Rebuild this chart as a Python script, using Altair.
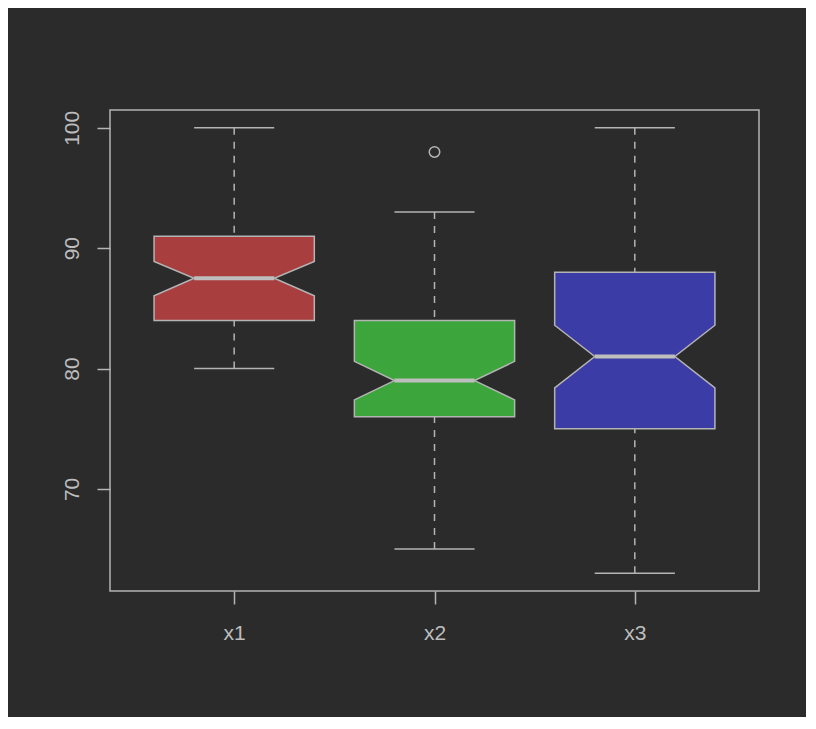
import pandas as pd
import altair as alt

# box statistics
groups = ["x1", "x2", "x3"]
positions = [1, 2, 3]
q1 = [84, 76, 75]
median = [87.5, 79, 81]
q3 = [91, 84, 88]
notch_lo = [86.05, 77.4, 78.4]
notch_hi = [88.9, 80.6, 83.6]
whisk_lo = [80, 65, 63]
whisk_hi = [100, 93, 100]
outlier_group = ["x2"]
outlier_pos = [2]
outlier_value = [98]
fills = ["#a83e3e", "#3ca63c", "#3c3ca6"]

LINE = "#b4b4b4"
TEXT = "#bdbdbd"
BG = "#2b2b2b"
half = 0.4   # half box width
nh = 0.2     # half notch / staple width

# outline of the notched boxes, one row per vertex height
rows = []
for g, p, a, nl, m, nu, b in zip(groups, positions, q1, notch_lo, median, notch_hi, q3):
    rows += [
        {"group": g, "y": a, "left": p - half, "right": p + half},
        {"group": g, "y": nl, "left": p - half, "right": p + half},
        {"group": g, "y": m, "left": p - nh, "right": p + nh},
        {"group": g, "y": nu, "left": p - half, "right": p + half},
        {"group": g, "y": b, "left": p - half, "right": p + half},
    ]
shape = pd.DataFrame(rows)

stats = pd.DataFrame({
    "group": groups, "pos": positions, "q1": q1, "median": median, "q3": q3,
    "wlo": whisk_lo, "whi": whisk_hi,
})
stats["nl"] = stats["pos"] - nh
stats["nr"] = stats["pos"] + nh
outl = pd.DataFrame({"group": outlier_group, "pos": outlier_pos, "value": outlier_value})

xscale = alt.Scale(domain=[0.38, 3.62], nice=False, zero=False)
yscale = alt.Scale(domain=[61.52, 101.48], nice=False, zero=False)

xax = alt.Axis(values=[1, 2, 3], labelExpr="'x' + datum.value", title=None, grid=False,
               domain=False, tickSize=13, tickColor=LINE, tickWidth=1.5,
               labelFont="Liberation Sans", labelFontSize=21, labelColor=TEXT,
               labelBaseline="alphabetic", labelPadding=35)
yax = alt.Axis(values=[70, 80, 90, 100], title=None, grid=False, domain=False,
               tickSize=13, tickColor=LINE, tickWidth=1.5,
               labelFont="Liberation Sans", labelFontSize=21, labelColor=TEXT,
               labelAngle=-90, labelAlign="center", labelBaseline="alphabetic",
               labelPadding=19)

base = alt.Chart(stats)

upper = base.mark_rule(color=LINE, strokeWidth=1.5, strokeDash=[7, 7]).encode(
    x=alt.X("pos:Q", scale=xscale, axis=xax),
    y=alt.Y("whi:Q", scale=yscale, axis=yax),
    y2="q3:Q",
)
lower = base.mark_rule(color=LINE, strokeWidth=1.5, strokeDash=[7, 7]).encode(
    x="pos:Q", y="wlo:Q", y2="q1:Q",
)

boxes = alt.Chart(shape).mark_area(orient="horizontal", stroke=LINE, strokeWidth=1.5,
                                   opacity=1).encode(
    y="y:Q",
    x="left:Q",
    x2="right:Q",
    color=alt.Color("group:N", scale=alt.Scale(domain=groups, range=fills), legend=None),
)

med = base.mark_rule(color="#bebebe", strokeWidth=4).encode(
    x="nl:Q", x2="nr:Q", y="median:Q",
)
cap_hi = base.mark_rule(color=LINE, strokeWidth=1.5).encode(x="nl:Q", x2="nr:Q", y="whi:Q")
cap_lo = base.mark_rule(color=LINE, strokeWidth=1.5).encode(x="nl:Q", x2="nr:Q", y="wlo:Q")

points = alt.Chart(outl).mark_point(shape="circle", filled=False, size=110,
                                    color=LINE, strokeWidth=1.5, opacity=1).encode(
    x="pos:Q", y="value:Q",
)

chart = alt.layer(upper, lower, boxes, med, cap_hi, cap_lo, points).properties(
    width=649, height=481,
    autosize=alt.AutoSizeParams(type="none"),
    padding={"left": 102, "top": 102, "right": 47, "bottom": 126},
    background=BG,
).configure_view(stroke=LINE, strokeWidth=1.5)

chart.save("out.html", embed_options={"renderer": "svg", "actions": False})
